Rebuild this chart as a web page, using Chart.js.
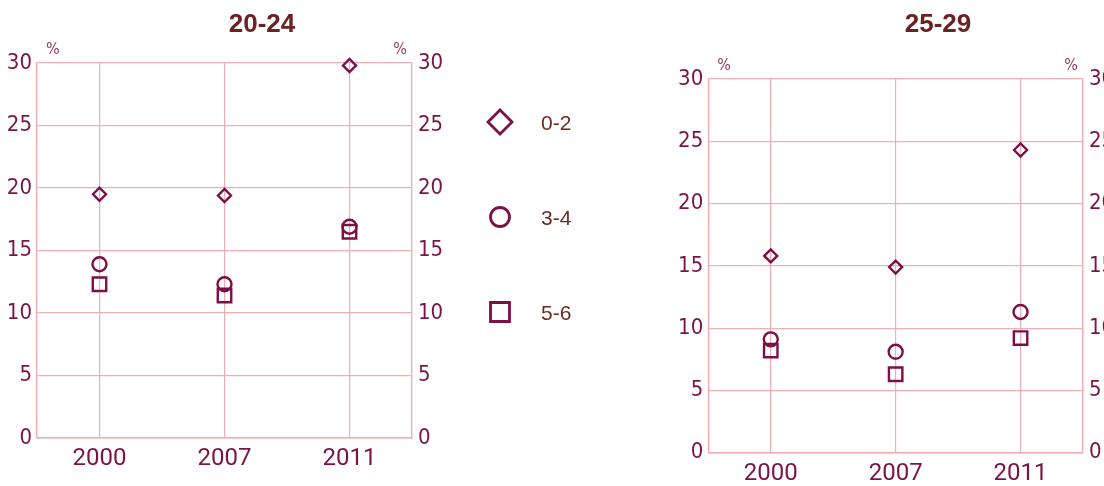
<!DOCTYPE html>
<html>
<head>
<meta charset="utf-8">
<script src="https://cdn.jsdelivr.net/npm/chart.js@4"></script>
<style>
  html, body { margin: 0; padding: 0; background: #fff; width: 1104px; height: 486px; overflow: hidden; }
  #left { position: absolute; left: 0; top: 0; }
  #right { position: absolute; left: 670px; top: 0; }
</style>
</head>
<body>
<canvas id="left" width="600" height="486"></canvas>
<canvas id="right" width="536" height="486"></canvas>
<script>
const YEARS = ['2000', '2007', '2011'];
const SERIES_LABELS = ['0-2', '3-4', '5-6'];
const Y_TICKS = [0, 5, 10, 15, 20, 25, 30];

const TITLE_LEFT = '20-24';
const LEFT_02 = [19.5, 19.4, 29.8];
const LEFT_34 = [13.9, 12.3, 16.9];
const LEFT_56 = [12.3, 11.4, 16.5];

const TITLE_RIGHT = '25-29';
const RIGHT_02 = [15.8, 14.9, 24.3];
const RIGHT_34 = [9.1, 8.1, 11.3];
const RIGHT_56 = [8.2, 6.3, 9.2];

const MARK = '#7b0f46';
const TICK = '#7a1447';
const GRID = '#eeaeb3';
const TITLE_COLOR = '#6b2222';

// pick a narrow face for the y tick numbers, if one is installed
const probe = document.createElement('canvas').getContext('2d');
function widthOf(font) { probe.font = font; return probe.measureText('3052').width; }
let narrow = { family: 'Roboto, sans-serif', weight: undefined, size: 20 };
if (widthOf('40px "Liberation Sans Narrow", monospace') !== widthOf('40px monospace')) {
  narrow = { family: '"Liberation Sans Narrow", sans-serif', weight: undefined, size: 22 };
} else if (widthOf('condensed 40px "DejaVu Sans"') < widthOf('40px "DejaVu Sans"') - 1) {
  narrow = { family: '"DejaVu Sans", sans-serif', weight: 'condensed', size: 22 };
}
const NARROW_CSS = (narrow.weight ? narrow.weight + ' ' : '');

const styles = [
  { pointStyle: 'rectRot', radius: 6.5, legendRadius: 12 },
  { pointStyle: 'circle', radius: 7, legendRadius: 9.5 },
  { pointStyle: 'rect', radius: 9.5, legendRadius: 13.4 }
];

function makeDatasets(lists) {
  return lists.map((values, i) => ({
    label: SERIES_LABELS[i],
    data: values,
    showLine: false,
    pointStyle: styles[i].pointStyle,
    pointRadius: styles[i].radius,
    pointBorderWidth: 2.4,
    pointBorderColor: MARK,
    pointBackgroundColor: 'rgba(255,255,255,0)',
    clip: false
  }));
}

// small "%" labels above both y axes
const percentPlugin = {
  id: 'percent',
  afterDraw(chart) {
    const ctx = chart.ctx, a = chart.chartArea;
    ctx.save();
    ctx.font = NARROW_CSS + '16px ' + narrow.family;
    ctx.fillStyle = '#9c3a68';
    ctx.textBaseline = 'middle';
    ctx.textAlign = 'left';
    ctx.fillText('%', a.left + 9, a.top - 13);
    ctx.textAlign = 'right';
    ctx.fillText('%', a.right - 5, a.top - 13);
    ctx.restore();
  }
};

// legend drawn to the right of the first chart
const sideLegend = {
  id: 'sideLegend',
  afterDraw(chart) {
    const ctx = chart.ctx;
    ctx.save();
    chart.data.datasets.forEach((ds, i) => {
      const y = 122 + i * 95;
      ctx.strokeStyle = MARK;
      ctx.fillStyle = '#fff';
      ctx.lineWidth = 2.8;
      Chart.helpers.drawPoint(ctx, { pointStyle: ds.pointStyle, radius: styles[i].legendRadius, borderWidth: 2.8, rotation: 0 }, 500, y);
      ctx.fillStyle = '#6b2a22';
      ctx.font = '21px "Liberation Sans", Arial, sans-serif';
      ctx.textAlign = 'left';
      ctx.textBaseline = 'middle';
      ctx.fillText(ds.label, 541, y + 2);
    });
    ctx.restore();
  }
};

function makeConfig(title, lists, dims, plugins) {
  const yFont = { family: narrow.family, size: narrow.size };
  if (narrow.weight) yFont.weight = narrow.weight;
  return {
    type: 'line',
    data: { labels: YEARS, datasets: makeDatasets(lists) },
    options: {
      responsive: false,
      animation: false,
      events: [],
      layout: { padding: { left: 0, right: dims.padRight, top: 0, bottom: 0 } },
      plugins: {
        legend: { display: false },
        tooltip: { enabled: false },
        title: {
          display: true,
          text: title,
          color: TITLE_COLOR,
          font: { family: "'Liberation Sans', Arial, sans-serif", size: 26, weight: 'bold', lineHeight: 1.2 },
          padding: { top: dims.titleTop, bottom: dims.titleBottom }
        }
      },
      scales: {
        x: {
          offset: true,
          grid: { offset: false, color: GRID, lineWidth: 1.2, drawTicks: false },
          border: { display: true, color: GRID, width: 1.4 },
          ticks: { color: TICK, padding: 7, font: { family: 'Roboto, sans-serif', size: 24 } },
          afterFit: s => { s.height = dims.xHeight; }
        },
        y: {
          position: 'left',
          min: 0, max: 30,
          afterBuildTicks: s => { s.ticks = Y_TICKS.map(v => ({ value: v })); },
          grid: { color: GRID, lineWidth: 1.2, drawTicks: false },
          border: { display: true, color: GRID, width: 1.4 },
          ticks: { color: TICK, padding: 5, font: yFont },
          afterFit: s => { s.width = dims.yWidth; }
        },
        y1: {
          position: 'right',
          min: 0, max: 30,
          afterBuildTicks: s => { s.ticks = Y_TICKS.map(v => ({ value: v })); },
          grid: { display: false, drawTicks: false },
          border: { display: true, color: GRID, width: 1.4 },
          ticks: { color: TICK, padding: 6, font: yFont },
          afterFit: s => { s.width = dims.y1Width; }
        }
      }
    },
    plugins: plugins
  };
}

new Chart(document.getElementById('left'),
  makeConfig(TITLE_LEFT, [LEFT_02, LEFT_34, LEFT_56],
    { padRight: 76, titleTop: 9.4, titleBottom: 22.4, xHeight: 48, yWidth: 37, y1Width: 112 },
    [percentPlugin, sideLegend]));

new Chart(document.getElementById('right'),
  makeConfig(TITLE_RIGHT, [RIGHT_02, RIGHT_34, RIGHT_56],
    { padRight: 0, titleTop: 9, titleBottom: 38.8, xHeight: 33.3, yWidth: 38.3, y1Width: 123 },
    [percentPlugin]));
</script>
</body>
</html>
